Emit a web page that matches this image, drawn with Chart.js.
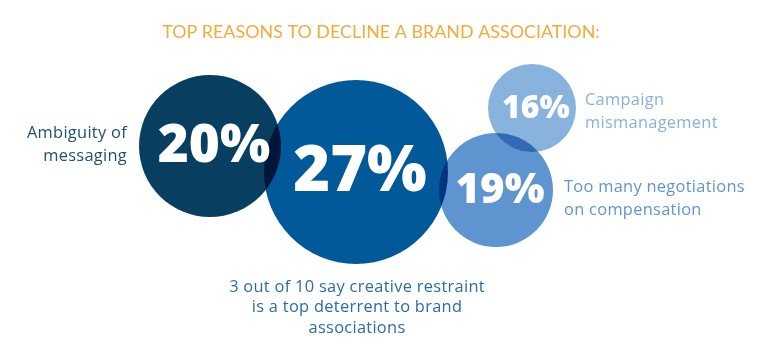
<!DOCTYPE html>
<html>
<head>
<meta charset="utf-8">
<script src="https://cdn.jsdelivr.net/npm/chart.js@4.4.1/dist/chart.umd.min.js"></script>
<style>
  html, body { margin: 0; padding: 0; background: #ffffff; }
  #wrap { width: 763px; height: 359px; position: relative; }
</style>
</head>
<body>
<div id="wrap"><canvas id="c"></canvas></div>
<script>
// ---- data ----
const title = "TOP REASONS TO DECLINE A BRAND ASSOCIATION:";
const categories = [
  ["Ambiguity of", "messaging"],
  ["3 out of 10 say creative restraint", "is a top deterrent to brand", "associations"],
  ["Campaign", "mismanagement"],
  ["Too many negotiations", "on compensation"]
];
const percentValues = [20, 27, 16, 19];
const bubbleX = [210, 356, 532, 496];
const bubbleY = [146, 172, 108, 190];
const bubbleR = [71, 92, 44, 57];

// ---- styles ----
const fillColors = ["#083f60", "#02599a", "#87b3dd", "#5e95d0"];
const labelColors = ["#21506f", "#2b6ca6", "#86b2dc", "#5f96d0"];
const labelSide = ["left", "bottom", "right", "right"];
const pctFontSize = [53, 63, 32, 42];

const points = percentValues.map((v, i) => ({ x: bubbleX[i], y: bubbleY[i], r: bubbleR[i], v: v }));

const textPlugin = {
  id: 'texts',
  beforeDatasetsDraw(chart) {
    chart.ctx.save();
    chart.ctx.globalCompositeOperation = 'multiply';
  },
  afterDatasetsDraw(chart) {
    const ctx = chart.ctx;
    ctx.restore();
    ctx.save();
    const meta = chart.getDatasetMeta(0);
    // title
    ctx.fillStyle = "#f5ab3a";
    ctx.font = "400 17.9px Lato, 'Open Sans', sans-serif";
    ctx.textAlign = "center";
    ctx.textBaseline = "middle";
    ctx.fillText(title, 381, 32);

    meta.data.forEach((el, i) => {
      const x = el.x, y = el.y, r = el.options.radius;
      // percent
      ctx.letterSpacing = "0px";
      ctx.fillStyle = "#ffffff";
      ctx.font = "800 " + pctFontSize[i] + "px 'Open Sans', Lato, sans-serif";
      ctx.textAlign = "center";
      ctx.textBaseline = "middle";
      ctx.fillText(percentValues[i] + "%", x + 4, y + 1);
      // category label
      const lines = categories[i];
      ctx.fillStyle = labelColors[i];
      ctx.font = "400 16.4px 'Open Sans', Lato, sans-serif";
      ctx.letterSpacing = "0.3px";
      const lh = 23;
      if (labelSide[i] === "left") {
        ctx.textAlign = "right";
        lines.forEach((t, k) => ctx.fillText(t, x - r - 12, y - 13 + k * lh));
      } else if (labelSide[i] === "right") {
        ctx.textAlign = "left";
        const gap = i === 2 ? 9 : 11;
        const dy = i === 2 ? -8 : -3;
        lines.forEach((t, k) => ctx.fillText(t, x + r + gap, y + dy + k * lh));
      } else {
        ctx.textAlign = "center";
        lines.forEach((t, k) => ctx.fillText(t, x + 1, y + r + 23 + k * 20.5));
      }
    });
    ctx.restore();
  }
};

new Chart(document.getElementById('c'), {
  type: 'bubble',
  data: {
    datasets: [{
      data: points,
      backgroundColor: fillColors,
      borderWidth: 0,
      hoverBorderWidth: 0
    }]
  },
  options: {
    responsive: true,
    maintainAspectRatio: false,
    animation: false,
    layout: { padding: 0, autoPadding: false },
    plugins: { legend: { display: false }, tooltip: { enabled: false }, title: { display: false } },
    scales: {
      x: { type: 'linear', min: 0, max: 763, display: false },
      y: { type: 'linear', min: 0, max: 359, reverse: true, display: false }
    },
    clip: false
  },
  plugins: [textPlugin]
});
</script>
</body>
</html>
